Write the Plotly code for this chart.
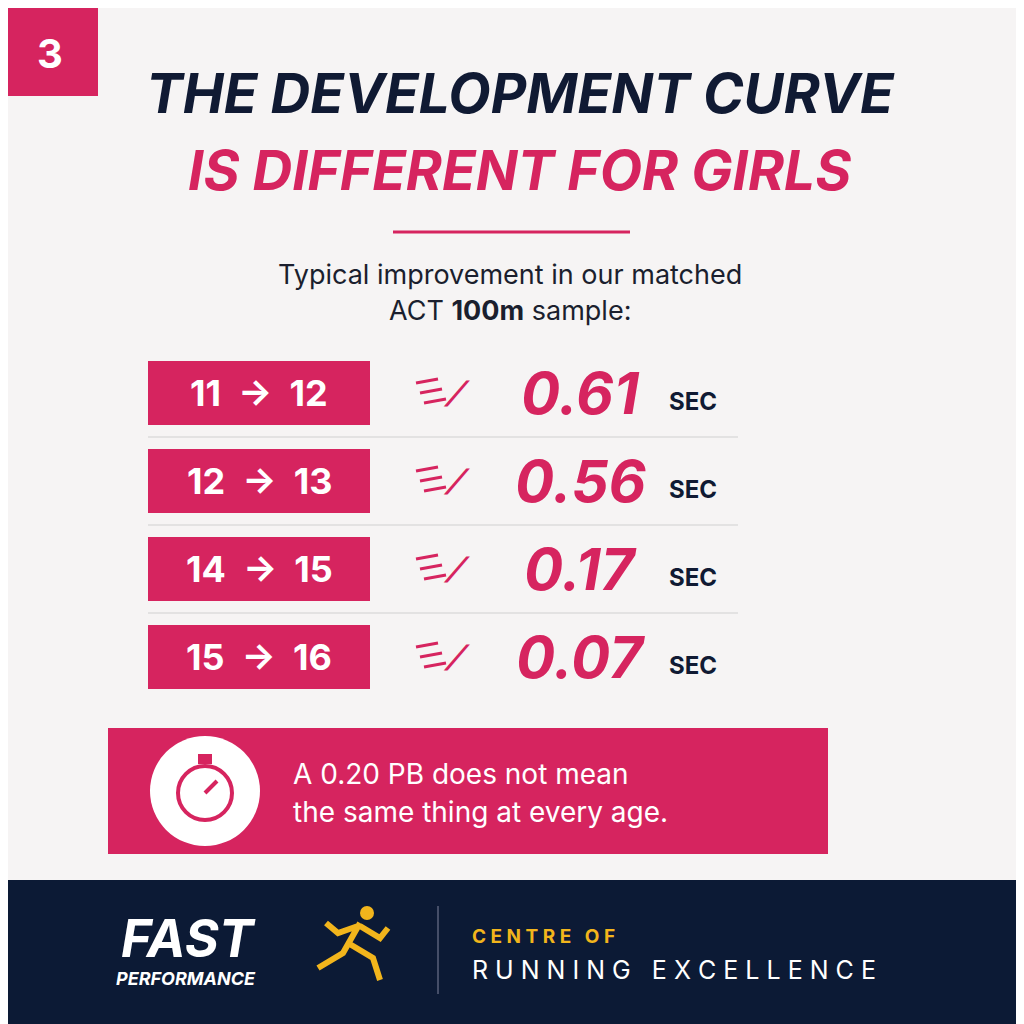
import plotly.graph_objects as go

# data
age_from = [11, 12, 14, 15]
age_to = [12, 13, 15, 16]
improvement_sec = [0.61, 0.56, 0.17, 0.07]

PINK = '#d6245f'
NAVY = '#101a33'
BG = '#f6f4f4'
GOLD = '#f2b51c'

fig = go.Figure()
shapes = []
ann = []


def add_text(x, y, text, size, color, font='Inter', xanchor='center', **kw):
    ann.append(dict(x=x, y=y, xref='x', yref='y', text=text, showarrow=False,
                    font=dict(size=size, color=color, family=font),
                    xanchor=xanchor, yanchor='middle', **kw))


# header badge
shapes.append(dict(type='rect', x0=0, x1=90, y0=0, y1=88, fillcolor=PINK, line_width=0))
add_text(42, 45, '<b>3</b>', 40, 'white')

# title
add_text(512, 85, '<b><i>THE DEVELOPMENT CURVE</i></b>', 55, NAVY)
add_text(512, 162, '<b><i>IS DIFFERENT FOR GIRLS</i></b>', 55, PINK)
shapes.append(dict(type='line', x0=385, x1=622, y0=224, y1=224, line=dict(color=PINK, width=3)))

add_text(502, 266, 'Typical improvement in our matched', 27, '#1b1f2e')
add_text(502, 302, 'ACT <b>100m</b> sample:', 27, '#1b1f2e')

# rows
row_y0 = 385
row_gap = 88
for i, (a, b, v) in enumerate(zip(age_from, age_to, improvement_sec)):
    y = row_y0 + i * row_gap
    shapes.append(dict(type='rect', x0=140, x1=362, y0=y - 32, y1=y + 32,
                       fillcolor=PINK, line_width=0, layer='below'))
    add_text(251, y, f'<b>{a}  →  {b}</b>', 36, 'white')
    # speed lines icon
    for k in range(3):
        shapes.append(dict(type='line', x0=408 + k * 4, x1=430 + k * 4, y0=y - 10 + k * 10,
                           y1=y - 14 + k * 10, line=dict(color=PINK, width=3)))
    add_text(448, y, '<b>⟋</b>', 34, PINK)
    add_text(572, y, f'<b><i>{v:.2f}</i></b>', 58, PINK)
    add_text(685, y + 8, '<b>SEC</b>', 24, NAVY)
    if i < len(improvement_sec) - 1:
        shapes.append(dict(type='line', x0=140, x1=730, y0=y + 44, y1=y + 44,
                           line=dict(color='#dcdcdc', width=1.5)))

# banner
shapes.append(dict(type='rect', x0=100, x1=820, y0=720, y1=846, fillcolor=PINK, line_width=0))
shapes.append(dict(type='circle', x0=142, x1=252, y0=728, y1=838, fillcolor='white', line_width=0))
shapes.append(dict(type='circle', x0=170, x1=224, y0=758, y1=812, fillcolor='white',
                   line=dict(color=PINK, width=4)))
shapes.append(dict(type='line', x0=197, x1=209, y0=785, y1=773, line=dict(color=PINK, width=4)))
shapes.append(dict(type='rect', x0=190, x1=204, y0=746, y1=756, fillcolor=PINK, line_width=0))
add_text(283, 766, 'A 0.20 PB does not mean', 28, 'white', xanchor='left')
add_text(283, 804, 'the same thing at every age.', 28, 'white', xanchor='left')

# footer
shapes.append(dict(type='rect', x0=0, x1=1024, y0=872, y1=1024, fillcolor='#0c1a35', line_width=0))
add_text(180, 930, '<b><i>FAST</i></b>', 52, 'white')
add_text(178, 970, '<b><i>PERFORMANCE</i></b>', 18, 'white')
# simple yellow runner
shapes.append(dict(type='circle', x0=352, x1=366, y0=898, y1=912, fillcolor=GOLD, line_width=0))
shapes.append(dict(type='path', path='M 352 915 L 335 945 L 310 960 M 340 935 L 365 950 L 372 972'
                   ' M 350 918 L 330 925 L 318 915 M 352 918 L 372 930 L 380 920',
                   line=dict(color=GOLD, width=6)))
shapes.append(dict(type='line', x0=430, x1=430, y0=898, y1=986, line=dict(color='#59617a', width=1.5)))
add_text(462, 928, '<b>C E N T R E   O F</b>', 19, GOLD, xanchor='left')
add_text(462, 962, 'R U N N I N G   E X C E L L E N C E', 25, 'white', xanchor='left')

fig.update_layout(
    width=1024, height=1024, margin=dict(l=0, r=0, t=0, b=0),
    plot_bgcolor=BG, paper_bgcolor=BG, showlegend=False,
    xaxis=dict(range=[0, 1024], visible=False, fixedrange=True),
    yaxis=dict(range=[1024, 0], visible=False, fixedrange=True),
    shapes=shapes, annotations=ann,
)
fig.write_html('out.html')
